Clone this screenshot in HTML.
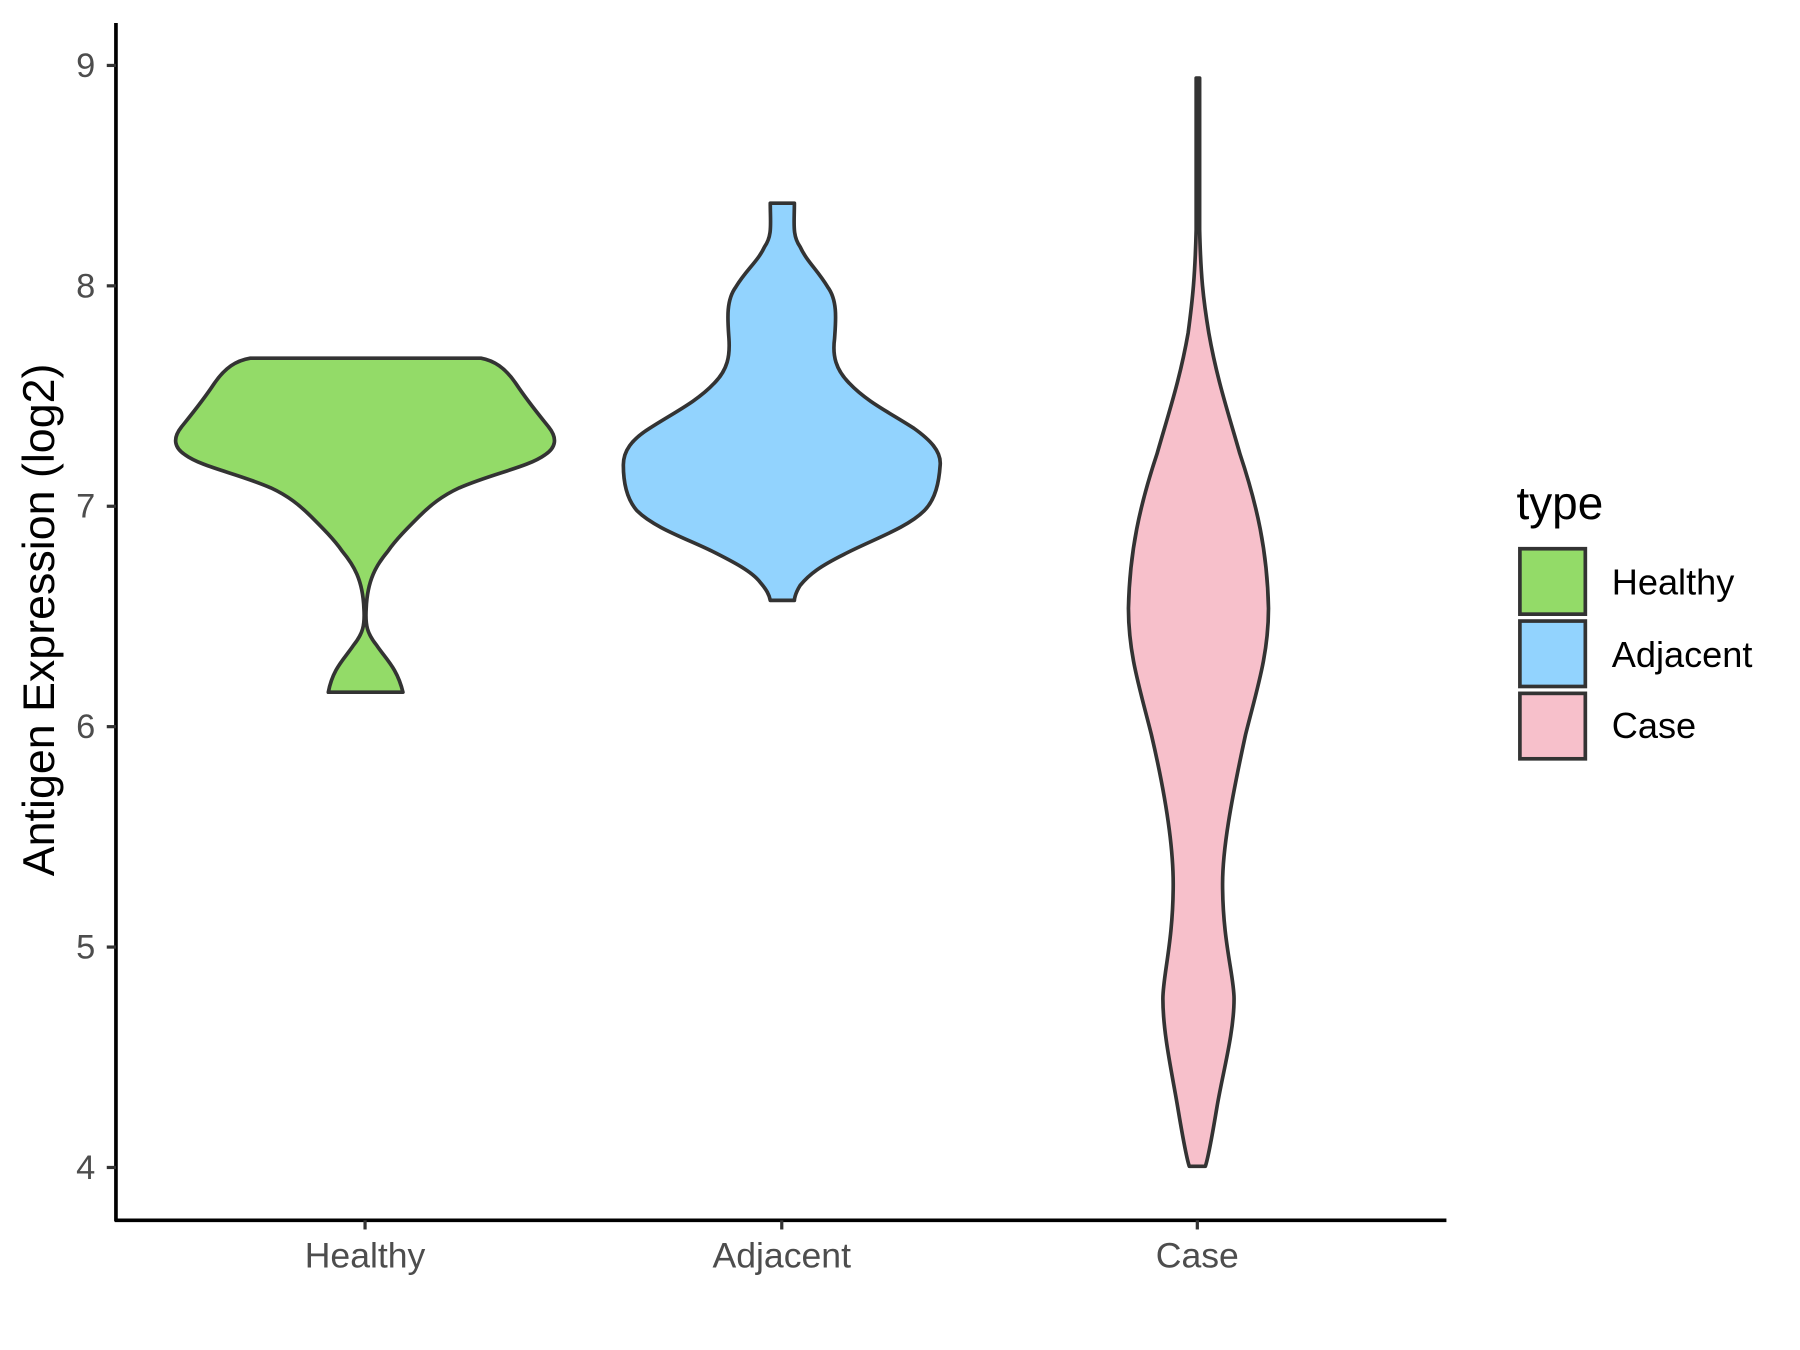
<!DOCTYPE html>
<html><head><meta charset="utf-8"><style>html,body{margin:0;padding:0;background:#fff}svg{display:block}</style></head>
<body>
<svg width="1800" height="1350" viewBox="0 0 1568 1176" xmlns="http://www.w3.org/2000/svg" font-family="Liberation Sans, Arial, sans-serif">
<rect width="1568" height="1176" fill="#fff"/>
<g stroke="#333" stroke-width="3.2" stroke-linejoin="round">
<path fill="#93DB68" d="M218,312 L419,312 C430,314 440,320 450,335 C460,350 470,362 478,372 C486,382 484,390 475,396 C460,407 430,412 400,425 C385,432 375,440 365,450 C355,460 345,470 338,480 C328,492 320,505 319,530 C318,545 320,552 328,562 C336,574 346,582 351,603 L286,603 C290,582 300,574 308,562 C316,552 318,545 317,530 C316,505 308,492 298,480 C291,470 281,460 271,450 C261,440 251,432 236,425 C206,412 176,407 161,396 C152,390 150,382 158,372 C166,362 176,350 186,335 C196,320 206,314 218,312 Z"/>
<path fill="#92D3FE" d="M671,177 L692,177 C692,195 690,205 697,215 C703,228 712,235 721,250 C730,262 728,280 727,295 C725,310 728,322 740,334 C755,350 776,360 796,373 C810,383 820,393 819,405 C818,420 815,435 805,445 C790,460 760,470 735,483 C715,493 705,500 697,510 C692,518 692,523 692,523 L671,523 C670,518 668,514 662,507 C655,498 640,490 620,480 C600,470 570,460 555,445 C546,435 543,420 543,405 C543,393 550,383 566,373 C586,360 607,350 622,334 C634,322 636,310 635,295 C634,280 632,262 641,250 C650,235 660,228 666,215 C673,205 671,195 671,177 Z"/>
<path fill="#F7C0CB" d="M1045,68 L1045,200 C1046,240 1048,260 1053,290 C1060,330 1070,360 1080,395 C1095,440 1104,480 1105,530 C1105,570 1095,600 1085,640 C1072,700 1065,740 1065,770 C1065,820 1075,850 1075,870 C1075,900 1065,935 1060,965 C1055,995 1052,1010 1050,1016 L1036,1016 C1034,1010 1031,995 1026,965 C1021,935 1013,900 1013,870 C1013,850 1022,820 1022,770 C1022,740 1017,700 1003,640 C993,600 983,570 983,530 C984,480 993,440 1008,395 C1018,360 1028,330 1035,290 C1039,260 1041,240 1042,200 L1042,68 Z"/>
</g>
<g stroke="#000" stroke-width="3.2" fill="none">
<line x1="101" y1="20" x2="101" y2="1064"/>
<line x1="100" y1="1063" x2="1260" y2="1063"/>
</g>
<g stroke="#333" stroke-width="2.8">
<line x1="93" y1="57" x2="101" y2="57"/><line x1="93" y1="249" x2="101" y2="249"/><line x1="93" y1="441" x2="101" y2="441"/><line x1="93" y1="633" x2="101" y2="633"/><line x1="93" y1="825" x2="101" y2="825"/><line x1="93" y1="1017" x2="101" y2="1017"/>
<line x1="318" y1="1063" x2="318" y2="1071"/><line x1="681" y1="1063" x2="681" y2="1071"/><line x1="1043" y1="1063" x2="1043" y2="1071"/>
</g>
<g fill="#4d4d4d" font-size="30" text-anchor="end">
<text x="83" y="67">9</text><text x="83" y="259">8</text><text x="83" y="451">7</text><text x="83" y="643">6</text><text x="83" y="835">5</text><text x="83" y="1027">4</text>
</g>
<g fill="#4d4d4d" font-size="31" text-anchor="middle">
<text x="318" y="1104">Healthy</text><text x="681" y="1104">Adjacent</text><text x="1043" y="1104">Case</text>
</g>
<text transform="translate(47,540) rotate(-90)" font-size="39" text-anchor="middle" fill="#000">Antigen Expression (log2)</text>
<text x="1321" y="452" font-size="40" fill="#000">type</text>
<g stroke="#333" stroke-width="3.2">
<rect x="1324" y="478" width="57" height="57" fill="#93DB68"/>
<rect x="1324" y="541" width="57" height="57" fill="#92D3FE"/>
<rect x="1324" y="604" width="57" height="57" fill="#F7C0CB"/>
</g>
<g font-size="31.5" fill="#000">
<text x="1404" y="518">Healthy</text><text x="1404" y="581">Adjacent</text><text x="1404" y="643">Case</text>
</g>
</svg>
</body></html>
